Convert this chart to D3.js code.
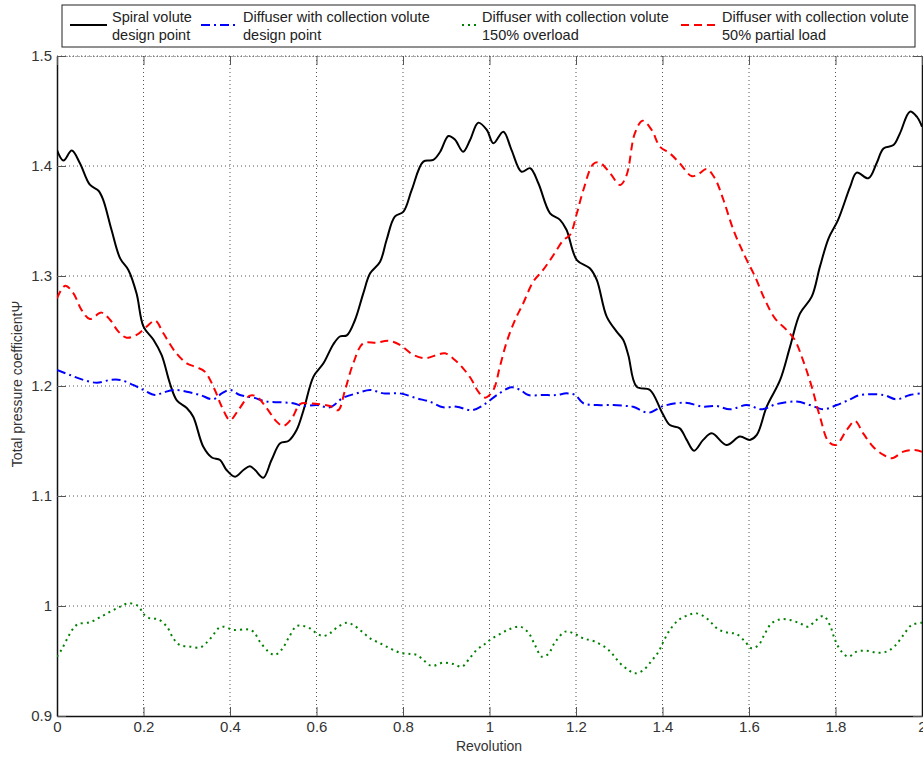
<!DOCTYPE html>
<html><head><meta charset="utf-8">
<script src="https://cdn.jsdelivr.net/npm/d3@7"></script>
<style>
body{margin:0;background:#fff;}
text{font-family:"Liberation Sans",Arial,sans-serif;}
</style></head>
<body><svg id="c" width="923" height="758"></svg>
<script>
const xTicks=[0,0.2,0.4,0.6,0.8,1,1.2,1.4,1.6,1.8,2];
const yTicks=[0.9,1,1.1,1.2,1.3,1.4,1.5];
const seriesNames=["Spiral volute|design point","Diffuser with collection volute|design point","Diffuser with collection volute|150% overload","Diffuser with collection volute|50% partial load"];

const spiralX=[0,0.015,0.034,0.053,0.076,0.096,0.107,0.126,0.146,0.165,0.184,0.2,0.223,0.242,0.261,0.277,0.3,0.315,0.338,0.358,0.377,0.392,0.412,0.431,0.446,0.458,0.477,0.496,0.516,0.535,0.554,0.57,0.593,0.616,0.639,0.654,0.67,0.689,0.708,0.724,0.747,0.762,0.781,0.801,0.82,0.847,0.87,0.886,0.905,0.92,0.939,0.955,0.974,0.994,1.009,1.032,1.051,1.074,1.094,1.113,1.14,1.163,1.178,1.202,1.232,1.248,1.271,1.294,1.309,1.321,1.34,1.371,1.398,1.417,1.44,1.456,1.473,1.494,1.514,1.548,1.579,1.602,1.618,1.641,1.672,1.695,1.718,1.745,1.764,1.784,1.806,1.834,1.849,1.876,1.895,1.911,1.934,1.949,1.972,1.988,2];
const spiralY=[1.4145,1.405,1.414,1.4025,1.383,1.3775,1.369,1.342,1.316,1.3055,1.284,1.254,1.242,1.228,1.2025,1.187,1.18,1.172,1.145,1.135,1.1327,1.1236,1.1175,1.1236,1.127,1.1236,1.1166,1.1327,1.148,1.15,1.16,1.178,1.2085,1.2206,1.238,1.245,1.246,1.26,1.284,1.3024,1.313,1.3327,1.354,1.3585,1.378,1.404,1.4055,1.413,1.4273,1.424,1.413,1.4236,1.4394,1.4327,1.4206,1.4312,1.4145,1.3948,1.398,1.3843,1.357,1.351,1.342,1.3145,1.307,1.2964,1.263,1.2494,1.242,1.228,1.1994,1.1964,1.1767,1.1645,1.1615,1.151,1.1412,1.151,1.157,1.1464,1.154,1.151,1.1555,1.1812,1.2055,1.2358,1.266,1.2812,1.3085,1.3342,1.351,1.3812,1.394,1.3888,1.4025,1.416,1.419,1.4297,1.4494,1.4448,1.4357];

const diffDesignX=[0,0.03,0.061,0.092,0.123,0.146,0.176,0.2,0.227,0.246,0.269,0.3,0.331,0.361,0.381,0.4,0.423,0.454,0.485,0.516,0.546,0.57,0.6,0.631,0.662,0.693,0.724,0.755,0.793,0.832,0.862,0.893,0.924,0.959,0.986,1.017,1.051,1.071,1.09,1.124,1.155,1.178,1.198,1.217,1.248,1.286,1.317,1.332,1.367,1.402,1.452,1.494,1.525,1.556,1.595,1.629,1.664,1.71,1.741,1.772,1.803,1.834,1.857,1.911,1.941,1.972,2];
const diffDesignY=[1.2145,1.21,1.2055,1.203,1.2055,1.2055,1.201,1.1964,1.1918,1.194,1.1964,1.1948,1.1918,1.1879,1.1933,1.1964,1.1918,1.1894,1.1858,1.1852,1.1843,1.1818,1.1827,1.1806,1.1894,1.1933,1.1964,1.1933,1.1933,1.1888,1.1858,1.1806,1.1812,1.178,1.1827,1.1918,1.1988,1.1964,1.1918,1.1918,1.1918,1.1933,1.1918,1.1843,1.1827,1.1827,1.1818,1.1812,1.1757,1.1818,1.1848,1.1812,1.1818,1.1788,1.1827,1.1788,1.1836,1.1858,1.1827,1.1788,1.1827,1.1879,1.1918,1.1918,1.1879,1.1918,1.1933];

const overloadX=[0,0.011,0.026,0.038,0.049,0.076,0.099,0.123,0.146,0.165,0.188,0.2,0.215,0.234,0.254,0.269,0.284,0.308,0.331,0.346,0.361,0.373,0.385,0.408,0.439,0.454,0.469,0.489,0.504,0.52,0.535,0.554,0.57,0.585,0.6,0.616,0.631,0.65,0.67,0.685,0.705,0.724,0.747,0.77,0.793,0.816,0.832,0.847,0.866,0.893,0.916,0.936,0.951,0.97,0.986,1.001,1.024,1.047,1.071,1.09,1.105,1.121,1.136,1.151,1.175,1.194,1.217,1.244,1.271,1.286,1.302,1.321,1.336,1.356,1.375,1.391,1.402,1.417,1.437,1.46,1.479,1.502,1.529,1.552,1.571,1.591,1.606,1.622,1.637,1.652,1.672,1.695,1.718,1.737,1.753,1.772,1.787,1.799,1.814,1.83,1.849,1.872,1.895,1.918,1.937,1.957,1.976,2];
const overloadY=[0.9539,0.9606,0.9721,0.9797,0.9836,0.9852,0.9897,0.9948,0.9994,1.0024,1.0,0.9927,0.9888,0.9879,0.9812,0.9706,0.9645,0.963,0.9624,0.9667,0.9736,0.9797,0.9812,0.9782,0.9788,0.9767,0.9676,0.9585,0.9555,0.9606,0.9706,0.9818,0.9818,0.9797,0.9752,0.9727,0.9752,0.9812,0.9848,0.9827,0.9767,0.9706,0.9661,0.9615,0.9576,0.9564,0.9555,0.9509,0.9455,0.9485,0.9473,0.9448,0.9509,0.96,0.9645,0.9691,0.9745,0.9791,0.9812,0.9757,0.9645,0.9539,0.9564,0.9667,0.9767,0.9752,0.9706,0.9676,0.9615,0.9555,0.9479,0.9418,0.9388,0.9418,0.9503,0.9585,0.9676,0.9782,0.9873,0.9918,0.9933,0.9888,0.9788,0.9757,0.9745,0.9676,0.9615,0.9645,0.9752,0.9842,0.9879,0.9873,0.9842,0.9812,0.9864,0.9909,0.9827,0.9691,0.9585,0.9539,0.9585,0.9594,0.9576,0.9585,0.9636,0.9736,0.9827,0.9848];

const partialX=[0,0.019,0.038,0.057,0.076,0.103,0.123,0.142,0.161,0.184,0.207,0.227,0.246,0.273,0.3,0.323,0.342,0.365,0.381,0.4,0.419,0.446,0.462,0.485,0.508,0.523,0.543,0.562,0.581,0.608,0.631,0.65,0.666,0.685,0.708,0.739,0.766,0.793,0.824,0.851,0.878,0.897,0.92,0.939,0.959,0.974,0.99,1.009,1.024,1.04,1.059,1.078,1.101,1.124,1.148,1.171,1.186,1.202,1.217,1.24,1.255,1.279,1.302,1.317,1.336,1.354,1.375,1.394,1.417,1.44,1.467,1.483,1.502,1.521,1.541,1.564,1.591,1.614,1.637,1.66,1.687,1.706,1.726,1.745,1.764,1.784,1.801,1.826,1.845,1.864,1.887,1.911,1.93,1.957,1.98,2];
const partialY=[1.2797,1.2912,1.2842,1.269,1.2609,1.2667,1.26,1.2494,1.2439,1.2464,1.2539,1.2594,1.2479,1.2312,1.2206,1.217,1.213,1.1964,1.1812,1.169,1.178,1.1912,1.1903,1.1797,1.1676,1.1636,1.1706,1.1836,1.1843,1.1834,1.1818,1.178,1.1964,1.2206,1.2388,1.2394,1.2412,1.2373,1.2282,1.2252,1.2282,1.2297,1.2236,1.2161,1.2055,1.1948,1.1894,1.1964,1.2176,1.2403,1.26,1.2752,1.2948,1.3055,1.3191,1.3327,1.3373,1.357,1.3782,1.4018,1.403,1.3933,1.3827,1.3918,1.4297,1.4412,1.4327,1.4176,1.4115,1.4024,1.3909,1.3927,1.3973,1.3888,1.3691,1.3418,1.3176,1.2994,1.2782,1.2615,1.2509,1.2418,1.2221,1.1994,1.1721,1.1494,1.1464,1.16,1.1682,1.157,1.1448,1.1373,1.1343,1.1403,1.1418,1.1403];

const svg=d3.select("#c");
const L=57,R=922,T=56,B=716;
const x=d3.scaleLinear().domain([0,2]).range([L,R]);
const y=d3.scaleLinear().domain([0.9,1.5]).range([B,T]);

// grid
const g=svg.append("g");
g.selectAll(".gx").data(xTicks.slice(1,-1)).join("line")
 .attr("x1",d=>x(d)).attr("x2",d=>x(d)).attr("y1",T).attr("y2",B)
 .attr("stroke","#555").attr("stroke-width",1).attr("stroke-dasharray","1,3");
g.selectAll(".gy").data(yTicks.slice(1)).join("line")
 .attr("x1",L).attr("x2",R).attr("y1",d=>y(d)).attr("y2",d=>y(d))
 .attr("stroke","#555").attr("stroke-width",1).attr("stroke-dasharray","1,3");

// axes
const axB=svg.append("g").attr("transform",`translate(0,${B})`)
 .call(d3.axisBottom(x).tickValues(xTicks).tickFormat(d3.format("")).tickSizeInner(-9).tickSizeOuter(0).tickPadding(5));
const axL=svg.append("g").attr("transform",`translate(${L},0)`)
 .call(d3.axisLeft(y).tickValues(yTicks).tickFormat(d3.format("")).tickSizeInner(-9).tickSizeOuter(0).tickPadding(5));
const axR=svg.append("g").attr("transform",`translate(${R},0)`)
 .call(d3.axisRight(y).tickValues(yTicks).tickFormat("").tickSizeInner(-9).tickSizeOuter(0));
const axT=svg.append("g").attr("transform",`translate(0,${T})`)
 .call(d3.axisTop(x).tickValues(xTicks).tickFormat("").tickSizeInner(-9).tickSizeOuter(0));
[axB,axL,axR,axT].forEach(a=>{
  a.selectAll(".tick line").attr("stroke","#555");
  a.selectAll("text").attr("font-size",15).attr("fill","#333").attr("font-family","Liberation Sans, Arial, sans-serif");
});
axT.select(".domain").attr("stroke","#555").attr("stroke-dasharray","1,2");
axR.select(".domain").attr("stroke","#111").attr("stroke-width",1.5);
axL.select(".domain").attr("stroke","#111").attr("stroke-width",1.5);
axB.select(".domain").attr("stroke","#111").attr("stroke-width",1.5);

// axis titles
svg.append("text").attr("x",489).attr("y",751).attr("text-anchor","middle").attr("font-size",14).attr("fill","#333").text("Revolution");
svg.append("text").attr("transform","translate(22,384) rotate(-90)").attr("text-anchor","middle").attr("font-size",14).attr("fill","#333").text("Total pressure coefficientΨ");

// series
const styles=[
 {xs:spiralX,ys:spiralY,color:"#000",dash:null,w:2},
 {xs:diffDesignX,ys:diffDesignY,color:"#0000ff",dash:"9,4,2,4",w:2},
 {xs:overloadX,ys:overloadY,color:"#008000",dash:"2,4",w:2},
 {xs:partialX,ys:partialY,color:"#ff0000",dash:"8,5",w:2}
];
const line=d3.line().x(d=>x(d[0])).y(d=>y(d[1])).curve(d3.curveCatmullRom.alpha(0.5));
svg.append("clipPath").attr("id","pc").append("rect").attr("x",L).attr("y",T).attr("width",R-L).attr("height",B-T);
const pg=svg.append("g").attr("clip-path","url(#pc)");
styles.forEach(s=>{
  const pts=s.xs.map((v,i)=>[v,s.ys[i]]);
  pg.append("path").attr("d",line(pts)).attr("fill","none").attr("stroke",s.color)
   .attr("stroke-width",s.w).attr("stroke-dasharray",s.dash).attr("stroke-linejoin","round");
});

// legend
const lg=svg.append("g");
lg.append("rect").attr("x",62).attr("y",5).attr("width",853).attr("height",42).attr("fill","#fff").attr("stroke","#222").attr("stroke-width",1);
const legPos=[{lx:70,tx:112},{lx:201,tx:243},{lx:420,tx:482},{lx:681,tx:722}];
styles.forEach((s,i)=>{
  const p=legPos[i];
  const lx = i===2 ? 462 : p.lx;
  lg.append("line").attr("x1",lx).attr("x2",p.tx-5).attr("y1",25).attr("y2",25)
   .attr("stroke",s.color).attr("stroke-width",s.w).attr("stroke-dasharray",s.dash);
  const parts=seriesNames[i].split("|");
  const t=lg.append("text").attr("x",p.tx).attr("y",22).attr("font-size",14.5).attr("fill","#222");
  t.append("tspan").attr("x",p.tx).attr("y",22).text(parts[0]);
  t.append("tspan").attr("x",p.tx).attr("y",40).text(parts[1]);
});
</script></body></html>
